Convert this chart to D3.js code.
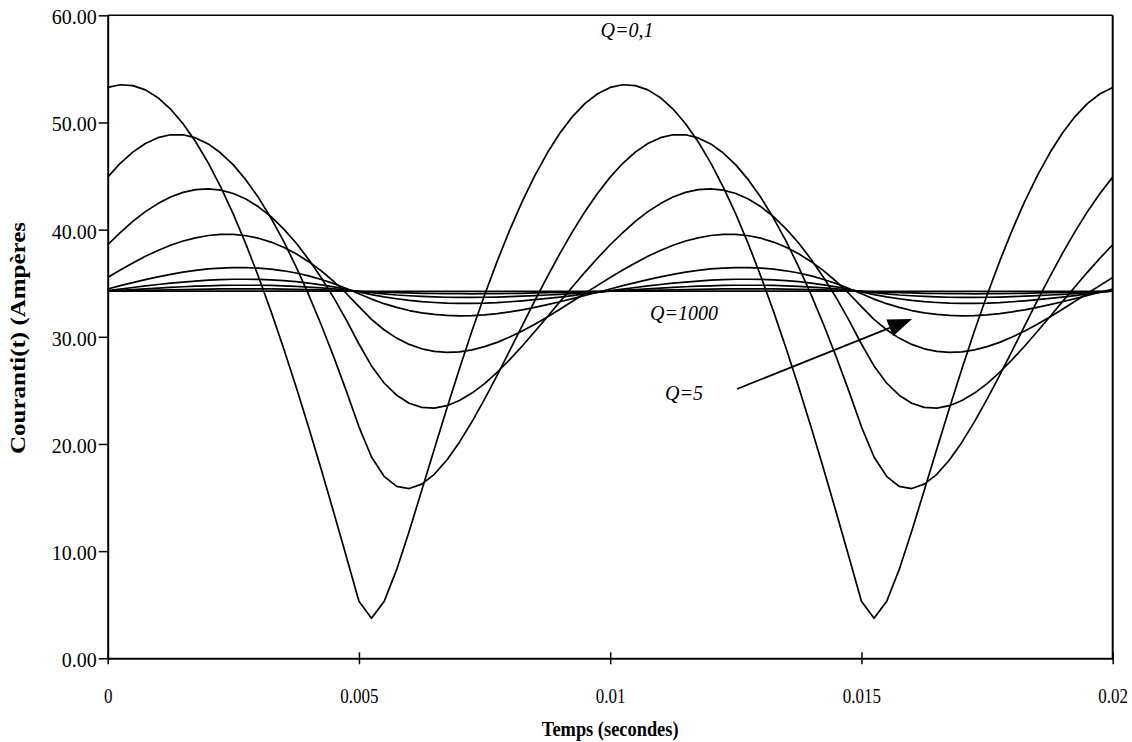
<!DOCTYPE html>
<html lang="fr">
<head>
<meta charset="UTF-8">
<title>Courant i(t)</title>
<script src="https://d3js.org/d3.v7.min.js"></script>
<style>
  html, body { margin: 0; padding: 0; background: #fff; }
  svg text { font-family: "Liberation Serif", "Times New Roman", serif; fill: #000; }
</style>
</head>
<body>
<div id="chart"></div>
<script>
// temps (s), pas de 0.00025 s
const temps = [0, 0.00025, 0.0005, 0.00075, 0.001, 0.00125, 0.0015, 0.00175, 0.002, 0.00225,
  0.0025, 0.00275, 0.003, 0.00325, 0.0035, 0.00375, 0.004, 0.00425, 0.0045, 0.00475,
  0.005, 0.00525, 0.0055, 0.00575, 0.006, 0.00625, 0.0065, 0.00675, 0.007, 0.00725,
  0.0075, 0.00775, 0.008, 0.00825, 0.0085, 0.00875, 0.009, 0.00925, 0.0095, 0.00975,
  0.01, 0.01025, 0.0105, 0.01075, 0.011, 0.01125, 0.0115, 0.01175, 0.012, 0.01225,
  0.0125, 0.01275, 0.013, 0.01325, 0.0135, 0.01375, 0.014, 0.01425, 0.0145, 0.01475,
  0.015, 0.01525, 0.0155, 0.01575, 0.016, 0.01625, 0.0165, 0.01675, 0.017, 0.01725,
  0.0175, 0.01775, 0.018, 0.01825, 0.0185, 0.01875, 0.019, 0.01925, 0.0195, 0.01975, 0.02];

// courant i(t) en A pour chaque Q
const q0_1 = [53.27, 53.52, 53.44, 53.04, 52.31, 51.25, 49.88, 48.20, 46.23, 43.97, 41.44, 38.65, 35.62, 32.37, 28.93, 25.31, 21.53, 17.61, 13.59, 9.48, 5.33, 3.73, 5.29, 8.27, 11.86, 15.67, 19.54, 23.33, 27.02, 30.56, 33.90, 37.04, 39.96, 42.63, 45.04, 47.17, 49.02, 50.55, 51.78, 52.68, 53.27,
  53.52, 53.44, 53.04, 52.31, 51.25, 49.88, 48.20, 46.23, 43.97, 41.44, 38.65, 35.62, 32.37, 28.93, 25.31, 21.53, 17.61, 13.59, 9.48, 5.33, 3.73, 5.29, 8.27, 11.86, 15.67, 19.54, 23.33, 27.02, 30.56, 33.90, 37.04, 39.96, 42.63, 45.04, 47.17, 49.02, 50.55, 51.78, 52.68, 53.27];
const q0_5 = [44.90, 46.19, 47.23, 48.04, 48.58, 48.85, 48.85, 48.56, 48.00, 47.15, 46.04, 44.64, 42.99, 41.08, 38.93, 36.52, 33.91, 31.10, 28.10, 24.93, 21.60, 18.78, 16.98, 16.04, 15.84, 16.25, 17.17, 18.50, 20.17, 22.08, 24.18, 26.41, 28.71, 31.04, 33.37, 35.62, 37.78, 39.81, 41.70, 43.40, 44.90,
  46.19, 47.23, 48.04, 48.58, 48.85, 48.85, 48.56, 48.00, 47.15, 46.04, 44.64, 42.99, 41.08, 38.93, 36.52, 33.91, 31.10, 28.10, 24.93, 21.60, 18.78, 16.98, 16.04, 15.84, 16.25, 17.17, 18.50, 20.17, 22.08, 24.18, 26.41, 28.71, 31.04, 33.37, 35.62, 37.78, 39.81, 41.70, 43.40, 44.90];
const q1 = [38.59, 39.73, 40.77, 41.68, 42.43, 43.04, 43.48, 43.74, 43.81, 43.69, 43.37, 42.85, 42.13, 41.21, 40.07, 38.75, 37.22, 35.51, 33.63, 31.55, 29.33, 27.28, 25.69, 24.55, 23.80, 23.41, 23.34, 23.57, 24.05, 24.75, 25.63, 26.69, 27.87, 29.14, 30.49, 31.87, 33.28, 34.67, 36.04, 37.35, 38.59,
  39.73, 40.77, 41.68, 42.43, 43.04, 43.48, 43.74, 43.81, 43.69, 43.37, 42.85, 42.13, 41.21, 40.07, 38.75, 37.22, 35.51, 33.63, 31.55, 29.33, 27.28, 25.69, 24.55, 23.80, 23.41, 23.34, 23.57, 24.05, 24.75, 25.63, 26.69, 27.87, 29.14, 30.49, 31.87, 33.28, 34.67, 36.04, 37.35, 38.59];
const q2 = [35.54, 36.24, 36.89, 37.51, 38.06, 38.54, 38.94, 39.23, 39.45, 39.55, 39.55, 39.43, 39.20, 38.84, 38.36, 37.75, 37.01, 36.15, 35.16, 34.04, 32.82, 31.63, 30.66, 29.88, 29.29, 28.88, 28.64, 28.55, 28.60, 28.78, 29.08, 29.48, 29.98, 30.55, 31.17, 31.85, 32.57, 33.31, 34.06, 34.80, 35.54,
  36.24, 36.89, 37.51, 38.06, 38.54, 38.94, 39.23, 39.45, 39.55, 39.55, 39.43, 39.20, 38.84, 38.36, 37.75, 37.01, 36.15, 35.16, 34.04, 32.82, 31.63, 30.66, 29.88, 29.29, 28.88, 28.64, 28.55, 28.60, 28.78, 29.08, 29.48, 29.98, 30.55, 31.17, 31.85, 32.57, 33.31, 34.06, 34.80, 35.54];
const q5 = [34.46, 34.77, 35.06, 35.33, 35.59, 35.82, 36.03, 36.20, 36.33, 36.41, 36.46, 36.46, 36.41, 36.32, 36.16, 35.95, 35.68, 35.35, 34.96, 34.51, 34.01, 33.52, 33.09, 32.74, 32.45, 32.24, 32.09, 32.00, 31.96, 31.98, 32.05, 32.17, 32.33, 32.52, 32.75, 33.00, 33.27, 33.56, 33.85, 34.16, 34.46,
  34.77, 35.06, 35.33, 35.59, 35.82, 36.03, 36.20, 36.33, 36.41, 36.46, 36.46, 36.41, 36.32, 36.16, 35.95, 35.68, 35.35, 34.96, 34.51, 34.01, 33.52, 33.09, 32.74, 32.45, 32.24, 32.09, 32.00, 31.96, 31.98, 32.05, 32.17, 32.33, 32.52, 32.75, 33.00, 33.27, 33.56, 33.85, 34.16, 34.46];
const q10 = [34.30, 34.45, 34.60, 34.75, 34.88, 35.00, 35.11, 35.20, 35.28, 35.33, 35.37, 35.37, 35.36, 35.32, 35.24, 35.14, 35.01, 34.85, 34.66, 34.44, 34.19, 33.93, 33.72, 33.55, 33.40, 33.28, 33.20, 33.14, 33.12, 33.12, 33.14, 33.19, 33.27, 33.36, 33.46, 33.58, 33.71, 33.85, 34.00, 34.15, 34.30,
  34.45, 34.60, 34.75, 34.88, 35.00, 35.11, 35.20, 35.28, 35.33, 35.37, 35.37, 35.36, 35.32, 35.24, 35.14, 35.01, 34.85, 34.66, 34.44, 34.19, 33.93, 33.72, 33.55, 33.40, 33.28, 33.20, 33.14, 33.12, 33.12, 33.14, 33.19, 33.27, 33.36, 33.46, 33.58, 33.71, 33.85, 34.00, 34.15, 34.30];
const q20 = [34.26, 34.34, 34.41, 34.48, 34.55, 34.62, 34.67, 34.72, 34.76, 34.79, 34.81, 34.81, 34.81, 34.79, 34.75, 34.71, 34.64, 34.56, 34.47, 34.36, 34.23, 34.11, 34.00, 33.90, 33.83, 33.77, 33.72, 33.69, 33.68, 33.68, 33.69, 33.71, 33.75, 33.79, 33.84, 33.90, 33.96, 34.03, 34.11, 34.18, 34.26,
  34.34, 34.41, 34.48, 34.55, 34.62, 34.67, 34.72, 34.76, 34.79, 34.81, 34.81, 34.81, 34.79, 34.75, 34.71, 34.64, 34.56, 34.47, 34.36, 34.23, 34.11, 34.00, 33.90, 33.83, 33.77, 33.72, 33.69, 33.68, 33.68, 33.69, 33.71, 33.75, 33.79, 33.84, 33.90, 33.96, 34.03, 34.11, 34.18, 34.26];
const q50 = [34.25, 34.28, 34.31, 34.34, 34.36, 34.39, 34.41, 34.43, 34.45, 34.47, 34.48, 34.48, 34.48, 34.47, 34.45, 34.43, 34.40, 34.37, 34.33, 34.29, 34.25, 34.20, 34.16, 34.12, 34.09, 34.06, 34.04, 34.02, 34.02, 34.01, 34.02, 34.03, 34.04, 34.06, 34.09, 34.11, 34.14, 34.16, 34.19, 34.22, 34.25,
  34.28, 34.31, 34.34, 34.36, 34.39, 34.41, 34.43, 34.45, 34.47, 34.48, 34.48, 34.48, 34.47, 34.45, 34.43, 34.40, 34.37, 34.33, 34.29, 34.25, 34.20, 34.16, 34.12, 34.09, 34.06, 34.04, 34.02, 34.02, 34.01, 34.02, 34.03, 34.04, 34.06, 34.09, 34.11, 34.14, 34.16, 34.19, 34.22, 34.25];
const q1000 = [34.251, 34.252, 34.254, 34.256, 34.257, 34.259, 34.260, 34.261, 34.261, 34.262, 34.262, 34.262, 34.261, 34.261, 34.260, 34.259, 34.257, 34.256, 34.254, 34.252, 34.251, 34.249, 34.247, 34.245, 34.244, 34.242, 34.241, 34.240, 34.240, 34.239, 34.239, 34.239, 34.240, 34.240, 34.241, 34.242, 34.244, 34.245, 34.247, 34.249, 34.251,
  34.252, 34.254, 34.256, 34.257, 34.259, 34.260, 34.261, 34.261, 34.262, 34.262, 34.262, 34.261, 34.261, 34.260, 34.259, 34.257, 34.256, 34.254, 34.252, 34.251, 34.249, 34.247, 34.245, 34.244, 34.242, 34.241, 34.240, 34.240, 34.239, 34.239, 34.239, 34.240, 34.240, 34.241, 34.242, 34.244, 34.245, 34.247, 34.249, 34.251];

const courbes = [q0_1, q0_5, q1, q2, q5, q10, q20, q50, q1000];

const yTicks = [0, 10, 20, 30, 40, 50, 60];
const xTicks = [0, 0.005, 0.01, 0.015, 0.02];
const xLabels = ["0", "0.005", "0.01", "0.015", "0.02"];

const width = 1132, height = 742;
const xLeft = 107.7, xRight = 1112.7, yTop = 15.3, yBottom = 658.3;

const svg = d3.select("#chart").append("svg")
  .attr("width", width)
  .attr("height", height);

svg.append("rect").attr("width", width).attr("height", height).attr("fill", "#fff");

const x = d3.scaleLinear().domain([0, 0.02]).range([xLeft, xRight]);
const y = d3.scaleLinear().domain([0, 60]).range([yBottom, yTop]);

// cadre haut et droit
svg.append("line")
  .attr("x1", xLeft).attr("x2", xRight).attr("y1", yTop).attr("y2", yTop)
  .attr("stroke", "#000").attr("stroke-width", 1.5);
svg.append("line")
  .attr("x1", xRight).attr("x2", xRight).attr("y1", yTop).attr("y2", yBottom)
  .attr("stroke", "#000").attr("stroke-width", 2);

// courbes
const line = d3.line()
  .x((d, i) => x(temps[i]))
  .y(d => y(d));

svg.append("g")
  .selectAll("path")
  .data(courbes)
  .join("path")
  .attr("d", line)
  .attr("fill", "none")
  .attr("stroke", "#000")
  .attr("stroke-width", 1.7)
  .attr("stroke-linejoin", "round");

// axe Y
const yAxis = svg.append("g")
  .attr("transform", `translate(${xLeft},0)`)
  .call(d3.axisLeft(y).tickValues(yTicks).tickFormat(d3.format(".2f")).tickSize(9).tickSizeOuter(0));
yAxis.select(".domain").attr("stroke-width", 2);
yAxis.selectAll(".tick line").attr("stroke-width", 1.5);
yAxis.selectAll(".tick text")
  .attr("x", -11)
  .attr("dy", "0.42em")
  .style("font-family", "Liberation Serif, serif")
  .style("font-size", "20px");

// axe X
const xAxis = svg.append("g")
  .attr("transform", `translate(0,${yBottom})`)
  .call(d3.axisBottom(x).tickValues(xTicks).tickFormat((d, i) => xLabels[i]).tickSize(6).tickSizeOuter(0));
xAxis.select(".domain").attr("stroke-width", 2);
xAxis.selectAll(".tick line").attr("y1", -6).attr("stroke-width", 1.5);
xAxis.selectAll(".tick text")
  .attr("y", 31)
  .attr("transform", "scale(0.85,1)")
  .style("font-family", "Liberation Serif, serif")
  .style("font-size", "20px");

// titres des axes
svg.append("text")
  .attr("transform", `translate(${(xLeft + xRight) / 2},736) scale(0.92,1)`)
  .attr("text-anchor", "middle")
  .style("font-weight", "bold")
  .style("font-size", "20px")
  .text("Temps (secondes)");

svg.append("text")
  .attr("transform", "translate(25,338) rotate(-90) scale(1.25,1)")
  .attr("text-anchor", "middle")
  .style("font-weight", "bold")
  .style("font-size", "20px")
  .text("Couranti(t) (Ampères");

// annotations
const notes = [
  { txt: "Q=0,1", x: 627, y: 37 },
  { txt: "Q=1000", x: 684, y: 320 },
  { txt: "Q=5", x: 684, y: 400 }
];
svg.append("g")
  .selectAll("text")
  .data(notes)
  .join("text")
  .attr("x", d => d.x)
  .attr("y", d => d.y)
  .attr("text-anchor", "middle")
  .style("font-style", "italic")
  .style("font-size", "20px")
  .text(d => d.txt);

// fleche vers Q=5
const a0 = [737, 389], a1 = [912, 319];
const ux = (a1[0] - a0[0]), uy = (a1[1] - a0[1]);
const len = Math.hypot(ux, uy);
const ex = ux / len, ey = uy / len;
const hb = [a1[0] - 24 * ex, a1[1] - 24 * ey];
svg.append("line")
  .attr("x1", a0[0]).attr("y1", a0[1]).attr("x2", hb[0]).attr("y2", hb[1])
  .attr("stroke", "#000").attr("stroke-width", 1.7);
svg.append("path")
  .attr("d", d3.line()([a1, [hb[0] - 9 * ey, hb[1] + 9 * ex], [hb[0] + 9 * ey, hb[1] - 9 * ex]]) + "Z")
  .attr("fill", "#000");
</script>
</body>
</html>
